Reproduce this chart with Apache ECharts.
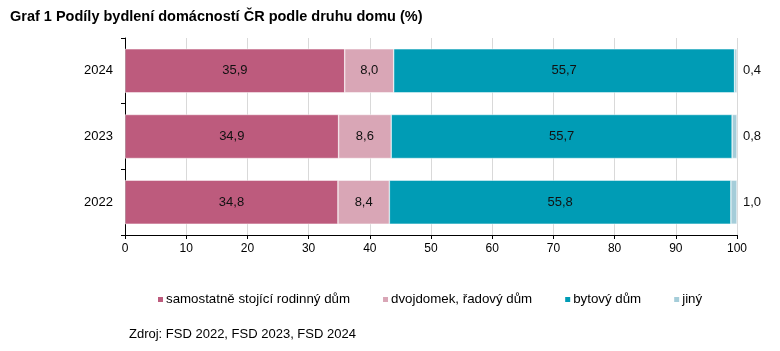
<!DOCTYPE html>
<html>
<head>
<meta charset="utf-8">
<script src="https://cdn.jsdelivr.net/npm/echarts@6/dist/echarts.min.js"></script>
<style>
  html, body { margin: 0; padding: 0; background: #fff; }
  #chart { width: 780px; height: 351px; }
</style>
</head>
<body>
<div id="chart"></div>
<script>
// roky (odspodu nahoru)
var years = ['2022', '2023', '2024'];
var seriesNames = ['samostatně stojící rodinný dům', 'dvojdomek, řadový dům', 'bytový dům', 'jiný'];
var rodinny = [34.8, 34.9, 35.9];
var radovy = [8.4, 8.6, 8.0];
var bytovy = [55.8, 55.7, 55.7];
var jiny = [1.0, 0.8, 0.4];
var xTicks = [0, 10, 20, 30, 40, 50, 60, 70, 80, 90, 100];

var colors = ['#bd5b7d', '#d9a6b6', '#009cb5', '#a5cdd9'];
var font = 'Liberation Sans, Arial, sans-serif';

var fmt = function (p) { return p.value.toFixed(1).replace('.', ','); };

function makeSeries(name, data, color, pos) {
  return {
    name: name,
    type: 'bar',
    stack: 'all',
    data: data,
    barCategoryGap: '33%',
    itemStyle: { color: color, borderColor: '#fff', borderWidth: 0.5 },
    label: {
      show: true,
      position: pos,
      distance: 6,
      formatter: fmt,
      color: '#111',
      fontSize: 13,
      fontFamily: font
    }
  };
}

var chart = echarts.init(document.getElementById('chart'), null, { renderer: 'canvas' });
var option = {
  backgroundColor: '#ffffff',
  animation: false,
  title: [{
    text: 'Graf 1 Podíly bydlení domácností ČR podle druhu domu (%)',
    left: 5, top: 4,
    textStyle: { fontSize: 14.5, fontWeight: 'bold', color: '#000', fontFamily: font }
  }, {
    text: 'Zdroj: FSD 2022, FSD 2023, FSD 2024',
    left: 124, top: 323,
    textStyle: { fontSize: 13, fontWeight: 'normal', color: '#000', fontFamily: font }
  }],
  legend: {
    data: seriesNames,
    top: 288,
    left: 151,
    itemWidth: 7,
    itemHeight: 7,
    itemGap: 31,
    icon: 'rect',
    textStyle: { fontSize: 13.3, color: '#000', fontFamily: font, padding: [0, 0, 0, -3] }
  },
  grid: { left: 125, right: 43, top: 38, bottom: 116, containLabel: false },
  xAxis: {
    type: 'value',
    min: 0, max: 100, interval: 10,
    axisLine: { show: true, lineStyle: { color: '#000' } },
    axisTick: { show: true, length: 4, lineStyle: { color: '#000' } },
    axisLabel: {
      color: '#000', fontSize: 12, margin: 8,
      fontFamily: font,
      customValues: xTicks
    },
    splitLine: { show: true, lineStyle: { color: '#d9d9d9', width: 1 } }
  },
  yAxis: {
    type: 'category',
    data: years,
    axisLine: { show: true, lineStyle: { color: '#000' } },
    axisTick: { show: true, length: 4, lineStyle: { color: '#000' } },
    axisLabel: { color: '#000', fontSize: 13, margin: 12, fontFamily: font }
  },
  series: [
    makeSeries(seriesNames[0], rodinny, colors[0], 'inside'),
    makeSeries(seriesNames[1], radovy, colors[1], 'inside'),
    makeSeries(seriesNames[2], bytovy, colors[2], 'inside'),
    makeSeries(seriesNames[3], jiny, colors[3], 'right')
  ]
};
chart.setOption(option);
</script>
</body>
</html>
